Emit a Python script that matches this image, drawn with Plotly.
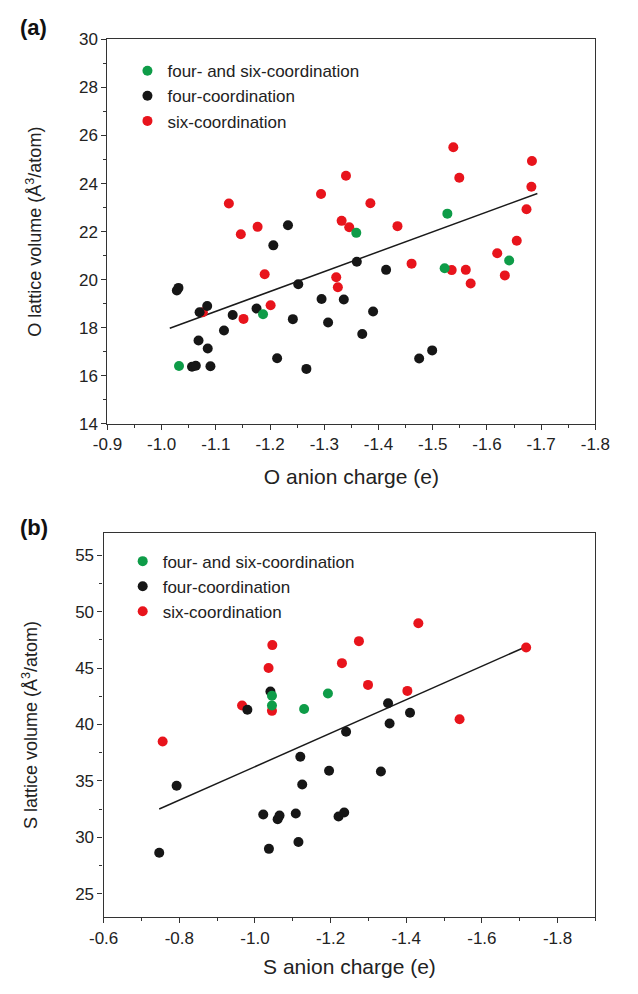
import plotly.graph_objects as go

# ---------- panel (a): O ----------
o_mix_x = [-1.032, -1.187, -1.359, -1.527, -1.522, -1.641]
o_mix_y = [16.41, 18.56, 21.95, 22.75, 20.48, 20.80]

o_four_x = [-1.028, -1.031, -1.070, -1.084, -1.131, -1.115, -1.068, -1.085, -1.056, -1.063,
            -1.090, -1.213, -1.267, -1.175, -1.242, -1.252, -1.206, -1.233, -1.295, -1.307,
            -1.336, -1.360, -1.414, -1.390, -1.370, -1.475, -1.499]
o_four_y = [19.55, 19.66, 18.65, 18.91, 18.53, 17.89, 17.47, 17.14, 16.38, 16.42,
            16.40, 16.73, 16.29, 18.80, 18.36, 19.81, 21.43, 22.27, 19.20, 18.22,
            19.18, 20.75, 20.41, 18.68, 17.74, 16.72, 17.06]

o_six_x = [-1.076, -1.151, -1.190, -1.201, -1.322, -1.325, -1.124, -1.146, -1.177, -1.294,
           -1.340, -1.332, -1.346, -1.385, -1.435, -1.538, -1.549, -1.683, -1.682, -1.673,
           -1.655, -1.619, -1.461, -1.535, -1.561, -1.570, -1.633]
o_six_y = [18.65, 18.37, 20.23, 18.94, 20.10, 19.69, 23.17, 21.89, 22.20, 23.57,
           24.33, 22.45, 22.18, 23.18, 22.23, 25.51, 24.24, 24.94, 23.87, 22.93,
           21.62, 21.10, 20.67, 20.40, 20.41, 19.84, 20.18]

o_fit_x = [-1.015, -1.693]
o_fit_y = [17.98, 23.59]

o_xticks = [-0.9, -1.0, -1.1, -1.2, -1.3, -1.4, -1.5, -1.6, -1.7, -1.8]
o_xtick_labels = ["-0.9", "-1.0", "-1.1", "-1.2", "-1.3", "-1.4", "-1.5", "-1.6", "-1.7", "-1.8"]

# ---------- panel (b): S ----------
s_mix_x = [-1.045, -1.045, -1.130, -1.193]
s_mix_y = [42.55, 41.68, 41.38, 42.75]

s_four_x = [-0.747, -0.793, -1.022, -1.037, -1.060, -1.065, -1.108, -1.115, -1.120, -1.125,
            -1.196, -1.221, -1.236, -1.241, -1.356, -1.333, -1.352, -1.410, -1.041, -0.980]
s_four_y = [28.62, 34.56, 32.01, 28.97, 31.60, 31.92, 32.10, 29.58, 37.14, 34.67,
            35.89, 31.84, 32.19, 39.36, 40.09, 35.83, 41.88, 41.04, 42.92, 41.30]

s_six_x = [-0.756, -1.432, -1.275, -1.230, -1.299, -1.403, -1.717, -1.541, -1.046, -1.036,
           -1.045, -0.966]
s_six_y = [38.49, 48.98, 47.39, 45.44, 43.51, 42.98, 46.83, 40.47, 47.04, 45.01,
           41.21, 41.68]

s_fit_x = [-0.747, -1.712]
s_fit_y = [32.50, 46.83]

s_xticks = [-0.6, -0.8, -1.0, -1.2, -1.4, -1.6, -1.8]
s_xtick_labels = ["-0.6", "-0.8", "-1.0", "-1.2", "-1.4", "-1.6", "-1.8"]

names = ["four- and six-coordination", "four-coordination", "six-coordination"]
GREEN, BLACK, RED = "#0e9c48", "#161616", "#e8141c"
FONT = "Liberation Sans, Arial, sans-serif"
AXC = "#333333"

fig = go.Figure()

def add_panel(xa, ya, leg, mix, four, six, fit):
    fig.add_trace(go.Scatter(x=fit[0], y=fit[1], mode="lines", line=dict(color="#1a1a1a", width=1.5),
                             showlegend=False, xaxis=xa, yaxis=ya, hoverinfo="skip"))
    for (xs, ys), col, nm, rank in [(six, RED, names[2], 3), (four, BLACK, names[1], 2), (mix, GREEN, names[0], 1)]:
        fig.add_trace(go.Scatter(x=xs, y=ys, mode="markers", name=nm, legend=leg, legendrank=rank,
                                 marker=dict(color=col, size=10, line=dict(width=0)),
                                 xaxis=xa, yaxis=ya))

add_panel("x", "y", "legend", (o_mix_x, o_mix_y), (o_four_x, o_four_y), (o_six_x, o_six_y), (o_fit_x, o_fit_y))
add_panel("x2", "y2", "legend2", (s_mix_x, s_mix_y), (s_four_x, s_four_y), (s_six_x, s_six_y), (s_fit_x, s_fit_y))

axis_common = dict(showline=True, linecolor=AXC, linewidth=1.3, mirror=True, ticks="outside",
                   ticklen=5, tickwidth=1.2, tickcolor=AXC, showgrid=False, zeroline=False,
                   tickfont=dict(size=17, color="#222", family=FONT))
minor_common = dict(ticks="outside", ticklen=3, tickwidth=1.1, tickcolor=AXC, showgrid=False)
xtitle_font = dict(size=21, color="#222", family=FONT)
ytitle_font = dict(size=18, color="#222", family=FONT)

fig.update_layout(
    width=638, height=994, margin=dict(l=0, r=0, t=0, b=0),
    paper_bgcolor="white", plot_bgcolor="white",
    font=dict(family=FONT, color="#222"),
    xaxis=dict(domain=[97/638, 609/638], anchor="y", range=[-0.9, -1.8],
               tickmode="array", tickvals=o_xticks, ticktext=o_xtick_labels,
               minor=dict(dtick=0.05, tick0=-0.9, **minor_common),
               title=dict(text="O anion charge (e)", standoff=15, font=xtitle_font), **axis_common),
    yaxis=dict(domain=[1 - 423/994, 1 - 31/994], anchor="x", range=[14, 30], dtick=2,
               minor=dict(dtick=1, **minor_common),
               title=dict(text="O lattice volume (Å<sup>3</sup>/atom)", standoff=32, font=ytitle_font),
               **axis_common),
    xaxis2=dict(domain=[93/638, 609/638], anchor="y2", range=[-0.6, -1.9],
                tickmode="array", tickvals=s_xticks, ticktext=s_xtick_labels,
                minor=dict(dtick=0.1, tick0=-0.6, **minor_common),
                title=dict(text="S anion charge (e)", standoff=12, font=xtitle_font), **axis_common),
    yaxis2=dict(domain=[1 - 926/994, 1 - 534/994], anchor="x2", range=[22.9, 57], dtick=5,
                minor=dict(dtick=2.5, **minor_common),
                title=dict(text="S lattice volume (Å<sup>3</sup>/atom)", standoff=32, font=ytitle_font),
                **axis_common),
    legend=dict(x=118/638, y=1 - 45/994, xanchor="left", yanchor="top", bgcolor="rgba(0,0,0,0)",
                font=dict(size=17, family=FONT, color="#222"), tracegroupgap=0),
    legend2=dict(x=113/638, y=1 - 545/994, xanchor="left", yanchor="top", bgcolor="rgba(0,0,0,0)",
                 font=dict(size=17, family=FONT, color="#222"), tracegroupgap=0),
    annotations=[
        dict(text="<b>(a)</b>", x=3/638, y=1 - 4/994, xref="paper", yref="paper", xanchor="left", yanchor="top",
             showarrow=False, font=dict(size=22, family=FONT, color="#111")),
        dict(text="<b>(b)</b>", x=3/638, y=1 - 514/994, xref="paper", yref="paper", xanchor="left", yanchor="top",
             showarrow=False, font=dict(size=22, family=FONT, color="#111")),
    ],
)

fig.write_html("out.html")
